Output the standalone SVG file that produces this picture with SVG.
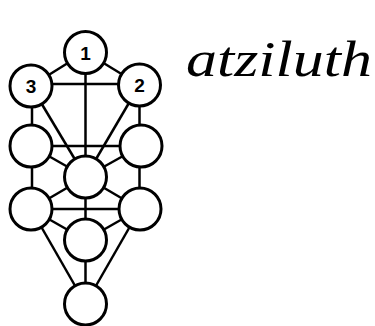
<svg xmlns="http://www.w3.org/2000/svg" width="375" height="326" viewBox="0 0 375 326">
<style>
.n{fill:#fff;stroke:#000;stroke-width:3}
.c line{stroke:#000;stroke-width:2.5}
.l{font-family:"Liberation Sans",Arial,sans-serif;font-size:19px;font-weight:bold;text-anchor:middle}
.h{font-family:"Liberation Serif",serif;font-style:italic;font-size:50px}
</style>
<rect width="375" height="326" fill="#fff"/>
<g class="c" id="connectors">
<line x1="85.5" y1="52" x2="31" y2="86"/>
<line x1="85.5" y1="52" x2="139.5" y2="85"/>
<line x1="31" y1="84" x2="139.5" y2="84"/>
<line x1="85.5" y1="52" x2="85.5" y2="177"/>
<line x1="32" y1="86" x2="32" y2="146"/>
<line x1="139.5" y1="85" x2="139.5" y2="146"/>
<line x1="31" y1="86" x2="85.5" y2="177"/>
<line x1="139.5" y1="85" x2="85.5" y2="177"/>
<line x1="31" y1="146" x2="141" y2="146"/>
<line x1="31" y1="146" x2="85.5" y2="177"/>
<line x1="141" y1="146" x2="85.5" y2="177"/>
<line x1="32" y1="146" x2="32" y2="209"/>
<line x1="139.5" y1="146" x2="139.5" y2="209"/>
<line x1="85.5" y1="177" x2="31" y2="209"/>
<line x1="85.5" y1="177" x2="140" y2="209"/>
<line x1="31" y1="209" x2="140" y2="209"/>
<line x1="85.5" y1="177" x2="85.5" y2="304"/>
<line x1="31" y1="209" x2="85.5" y2="240"/>
<line x1="140" y1="209" x2="85.5" y2="240"/>
<line x1="31" y1="209" x2="85.5" y2="304"/>
<line x1="140" y1="209" x2="85.5" y2="304"/>
</g>
<g id="n1"><circle class="n" cx="85.5" cy="52.5" r="21"/><text class="l" x="85.5" y="59.5">1</text></g>
<g id="n3"><circle class="n" cx="31" cy="86" r="21"/><text class="l" x="31" y="93">3</text></g>
<g id="n2"><circle class="n" cx="139.5" cy="85" r="21"/><text class="l" x="139.5" y="92">2</text></g>
<g id="n4"><circle class="n" cx="31" cy="146" r="21"/></g>
<g id="n5"><circle class="n" cx="141" cy="146" r="21"/></g>
<g id="n6"><circle class="n" cx="85.5" cy="177" r="21"/></g>
<g id="n7"><circle class="n" cx="31" cy="209" r="21"/></g>
<g id="n8"><circle class="n" cx="140" cy="209" r="21"/></g>
<g id="n9"><circle class="n" cx="85.5" cy="240" r="21"/></g>
<g id="n10"><circle class="n" cx="85.5" cy="304" r="21"/></g>
<text class="h" x="186" y="76" textLength="186" lengthAdjust="spacingAndGlyphs">atziluth</text>
</svg>
